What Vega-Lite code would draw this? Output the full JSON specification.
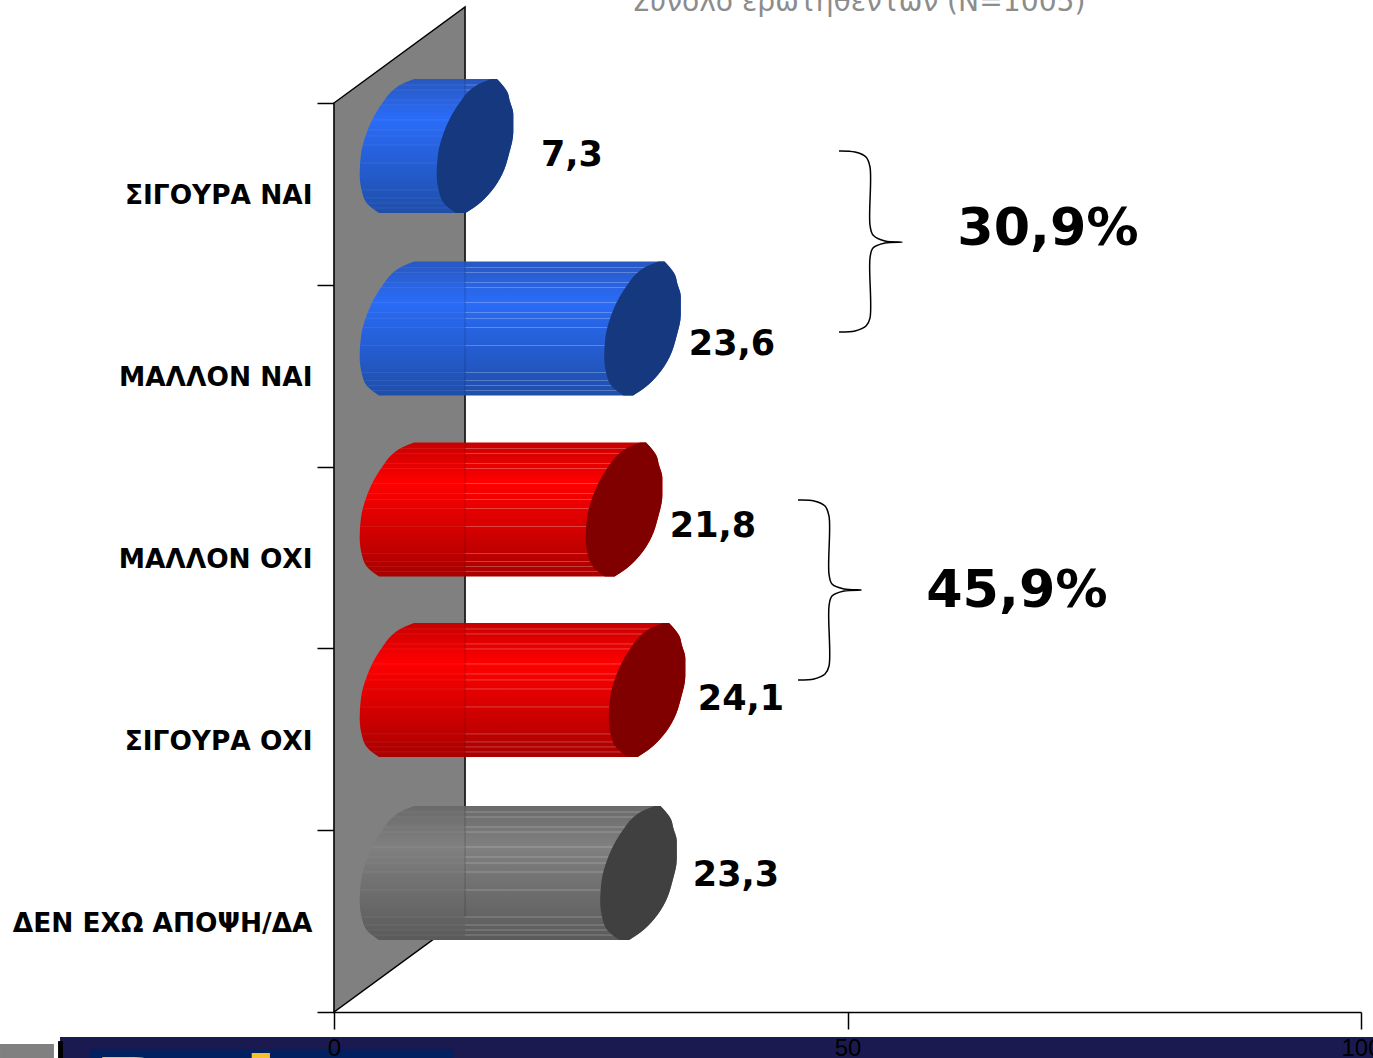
{
"$schema":"https://vega.github.io/schema/vega-lite/v6.json",
"autosize":{"type":"none"},
"padding":{"left":334,"top":103,"right":12,"bottom":46},
"width":1027,"height":909,
"background":"white",
"view":{"stroke":null},
"config":{"font":"DejaVu Sans"},
"datasets":{
"answers":[
{"category":"ΣΙΓΟΥΡΑ ΝΑΙ","value":7.3,"label":"7,3","lx":23.17,"ly":0.286},
{"category":"ΜΑΛΛΟΝ ΝΑΙ","value":23.6,"label":"23,6","lx":38.75,"ly":1.326},
{"category":"ΜΑΛΛΟΝ ΟΧΙ","value":21.8,"label":"21,8","lx":36.90,"ly":2.327},
{"category":"ΣΙΓΟΥΡΑ ΟΧΙ","value":24.1,"label":"24,1","lx":39.63,"ly":3.278},
{"category":"ΔΕΝ ΕΧΩ ΑΠΟΨΗ/ΔΑ","value":23.3,"label":"23,3","lx":39.14,"ly":4.246}
],
"wall":[{"x":0,"y":0,"y2":5},{"x":12.76,"y":-0.528,"y2":4.472}],
"banner":[
{"part":"navy","x":-26.68,"x2":101.17,"y":5.137,"y2":5.3},
{"part":"white","x":-32.52,"x2":-26.87,"y":5.143,"y2":5.3},
{"part":"panel","x":-32.52,"x2":-27.27,"y":5.176,"y2":5.3},
{"part":"black","x":-26.87,"x2":-26.39,"y":5.16,"y2":5.3},
{"part":"inner","x":-23.76,"x2":11.59,"y":5.203,"y2":5.3}
],
"cyl":[
{"c":"a","g":"blue","y":-0.132,"x0":7.79,"x1":15.29,"x2":15.87},
{"c":"a","g":"blue","y":-0.1045,"x0":6.62,"x1":14.12,"x2":16.32},
{"c":"a","g":"blue","y":-0.0605,"x0":5.55,"x1":13.05,"x2":16.88},
{"c":"a","g":"blue","y":-0.011,"x0":4.85,"x1":12.35,"x2":17.12},
{"c":"a","g":"blue","y":0.0605,"x0":4.02,"x1":11.52,"x2":17.46},
{"c":"a","g":"blue","y":0.1595,"x0":3.21,"x1":10.71,"x2":17.46},
{"c":"a","g":"blue","y":0.2805,"x0":2.63,"x1":10.13,"x2":17.04},
{"c":"a","g":"blue","y":0.3905,"x0":2.50,"x1":10.00,"x2":16.39},
{"c":"a","g":"blue","y":0.4895,"x0":2.73,"x1":10.23,"x2":15.26},
{"c":"a","g":"blue","y":0.561,"x0":3.36,"x1":10.86,"x2":13.97},
{"c":"a","g":"blue","y":0.605,"x0":4.38,"x1":11.88,"x2":12.81},
{"c":"b","g":"blue","y":0.872,"x0":7.79,"x1":31.60,"x2":32.18},
{"c":"b","g":"blue","y":0.899,"x0":6.62,"x1":30.43,"x2":32.63},
{"c":"b","g":"blue","y":0.943,"x0":5.55,"x1":29.36,"x2":33.19},
{"c":"b","g":"blue","y":0.993,"x0":4.85,"x1":28.66,"x2":33.43},
{"c":"b","g":"blue","y":1.064,"x0":4.02,"x1":27.83,"x2":33.77},
{"c":"b","g":"blue","y":1.163,"x0":3.21,"x1":27.02,"x2":33.77},
{"c":"b","g":"blue","y":1.284,"x0":2.63,"x1":26.44,"x2":33.35},
{"c":"b","g":"blue","y":1.394,"x0":2.50,"x1":26.31,"x2":32.70},
{"c":"b","g":"blue","y":1.493,"x0":2.73,"x1":26.54,"x2":31.57},
{"c":"b","g":"blue","y":1.565,"x0":3.36,"x1":27.17,"x2":30.28},
{"c":"b","g":"blue","y":1.609,"x0":4.38,"x1":28.19,"x2":29.12},
{"c":"c","g":"red","y":1.8675,"x0":7.79,"x1":29.80,"x2":30.38},
{"c":"c","g":"red","y":1.895,"x0":6.62,"x1":28.63,"x2":30.83},
{"c":"c","g":"red","y":1.939,"x0":5.55,"x1":27.56,"x2":31.39},
{"c":"c","g":"red","y":1.9885,"x0":4.85,"x1":26.86,"x2":31.63},
{"c":"c","g":"red","y":2.06,"x0":4.02,"x1":26.03,"x2":31.97},
{"c":"c","g":"red","y":2.159,"x0":3.21,"x1":25.22,"x2":31.97},
{"c":"c","g":"red","y":2.28,"x0":2.63,"x1":24.64,"x2":31.55},
{"c":"c","g":"red","y":2.39,"x0":2.50,"x1":24.51,"x2":30.90},
{"c":"c","g":"red","y":2.489,"x0":2.73,"x1":24.74,"x2":29.77},
{"c":"c","g":"red","y":2.5605,"x0":3.36,"x1":25.37,"x2":28.48},
{"c":"c","g":"red","y":2.6045,"x0":4.38,"x1":26.39,"x2":27.32},
{"c":"d","g":"red","y":2.860,"x0":7.79,"x1":32.04,"x2":32.62},
{"c":"d","g":"red","y":2.888,"x0":6.62,"x1":30.87,"x2":33.07},
{"c":"d","g":"red","y":2.932,"x0":5.55,"x1":29.80,"x2":33.63},
{"c":"d","g":"red","y":2.981,"x0":4.85,"x1":29.10,"x2":33.87},
{"c":"d","g":"red","y":3.053,"x0":4.02,"x1":28.27,"x2":34.21},
{"c":"d","g":"red","y":3.152,"x0":3.21,"x1":27.46,"x2":34.21},
{"c":"d","g":"red","y":3.273,"x0":2.63,"x1":26.88,"x2":33.79},
{"c":"d","g":"red","y":3.383,"x0":2.50,"x1":26.75,"x2":33.14},
{"c":"d","g":"red","y":3.482,"x0":2.73,"x1":26.98,"x2":32.01},
{"c":"d","g":"red","y":3.553,"x0":3.36,"x1":27.61,"x2":30.72},
{"c":"d","g":"red","y":3.597,"x0":4.38,"x1":28.63,"x2":29.56},
{"c":"e","g":"gray","y":3.867,"x0":7.79,"x1":31.21,"x2":31.79},
{"c":"e","g":"gray","y":3.894,"x0":6.62,"x1":30.04,"x2":32.24},
{"c":"e","g":"gray","y":3.938,"x0":5.55,"x1":28.97,"x2":32.80},
{"c":"e","g":"gray","y":3.988,"x0":4.85,"x1":28.27,"x2":33.04},
{"c":"e","g":"gray","y":4.059,"x0":4.02,"x1":27.44,"x2":33.38},
{"c":"e","g":"gray","y":4.158,"x0":3.21,"x1":26.63,"x2":33.38},
{"c":"e","g":"gray","y":4.279,"x0":2.63,"x1":26.05,"x2":32.96},
{"c":"e","g":"gray","y":4.389,"x0":2.50,"x1":25.92,"x2":32.31},
{"c":"e","g":"gray","y":4.488,"x0":2.73,"x1":26.15,"x2":31.18},
{"c":"e","g":"gray","y":4.560,"x0":3.36,"x1":26.78,"x2":29.89},
{"c":"e","g":"gray","y":4.604,"x0":4.38,"x1":27.80,"x2":28.73}
],
"stripes":[
{"c":"a","y":-0.099,"xa":6.48,"xw":12.76,"xb":13.98},{"c":"a","y":-0.0715,"xa":5.82,"xw":12.76,"xb":13.32},{"c":"a","y":-0.0165,"xa":4.93,"xw":12.43,"xb":12.43},{"c":"a","y":0.011,"xa":4.59,"xw":12.09,"xb":12.09},{"c":"a","y":0.0935,"xa":3.75,"xw":11.25,"xb":11.25},{"c":"a","y":0.1485,"xa":3.30,"xw":10.80,"xb":10.80},{"c":"a","y":0.1815,"xa":3.10,"xw":10.60,"xb":10.60},{"c":"a","y":0.231,"xa":2.87,"xw":10.37,"xb":10.37},{"c":"a","y":0.33,"xa":2.57,"xw":10.07,"xb":10.07},{"c":"a","y":0.4785,"xa":2.70,"xw":10.20,"xb":10.20},{"c":"a","y":0.5225,"xa":3.02,"xw":10.52,"xb":10.52},{"c":"a","y":0.55,"xa":3.26,"xw":10.76,"xb":10.76},{"c":"a","y":0.5775,"xa":3.74,"xw":11.24,"xb":11.24},
{"c":"b","y":0.905,"xa":6.48,"xw":12.76,"xb":30.29},{"c":"b","y":0.9325,"xa":5.82,"xw":12.76,"xb":29.63},{"c":"b","y":0.9875,"xa":4.93,"xw":12.76,"xb":28.74},{"c":"b","y":1.015,"xa":4.59,"xw":12.76,"xb":28.40},{"c":"b","y":1.0975,"xa":3.75,"xw":12.76,"xb":27.56},{"c":"b","y":1.1525,"xa":3.30,"xw":12.76,"xb":27.11},{"c":"b","y":1.1855,"xa":3.10,"xw":12.76,"xb":26.91},{"c":"b","y":1.235,"xa":2.87,"xw":12.76,"xb":26.68},{"c":"b","y":1.334,"xa":2.57,"xw":12.76,"xb":26.38},{"c":"b","y":1.4825,"xa":2.70,"xw":12.76,"xb":26.51},{"c":"b","y":1.5265,"xa":3.02,"xw":12.76,"xb":26.83},{"c":"b","y":1.554,"xa":3.26,"xw":12.76,"xb":27.07},{"c":"b","y":1.5815,"xa":3.74,"xw":12.76,"xb":27.55},
{"c":"c","y":1.9005,"xa":6.48,"xw":12.76,"xb":28.49},{"c":"c","y":1.928,"xa":5.82,"xw":12.76,"xb":27.83},{"c":"c","y":1.983,"xa":4.93,"xw":12.76,"xb":26.94},{"c":"c","y":2.0105,"xa":4.59,"xw":12.76,"xb":26.60},{"c":"c","y":2.093,"xa":3.75,"xw":12.76,"xb":25.76},{"c":"c","y":2.148,"xa":3.30,"xw":12.76,"xb":25.31},{"c":"c","y":2.181,"xa":3.10,"xw":12.76,"xb":25.11},{"c":"c","y":2.2305,"xa":2.87,"xw":12.76,"xb":24.88},{"c":"c","y":2.3295,"xa":2.57,"xw":12.76,"xb":24.58},{"c":"c","y":2.478,"xa":2.70,"xw":12.76,"xb":24.71},{"c":"c","y":2.522,"xa":3.02,"xw":12.76,"xb":25.03},{"c":"c","y":2.5495,"xa":3.26,"xw":12.76,"xb":25.27},{"c":"c","y":2.577,"xa":3.74,"xw":12.76,"xb":25.75},
{"c":"d","y":2.893,"xa":6.48,"xw":12.76,"xb":30.73},{"c":"d","y":2.9205,"xa":5.82,"xw":12.76,"xb":30.07},{"c":"d","y":2.9755,"xa":4.93,"xw":12.76,"xb":29.18},{"c":"d","y":3.003,"xa":4.59,"xw":12.76,"xb":28.84},{"c":"d","y":3.0855,"xa":3.75,"xw":12.76,"xb":28.00},{"c":"d","y":3.1405,"xa":3.30,"xw":12.76,"xb":27.55},{"c":"d","y":3.1735,"xa":3.10,"xw":12.76,"xb":27.35},{"c":"d","y":3.223,"xa":2.87,"xw":12.76,"xb":27.12},{"c":"d","y":3.322,"xa":2.57,"xw":12.76,"xb":26.82},{"c":"d","y":3.4705,"xa":2.70,"xw":12.76,"xb":26.95},{"c":"d","y":3.5145,"xa":3.02,"xw":12.76,"xb":27.27},{"c":"d","y":3.542,"xa":3.26,"xw":12.76,"xb":27.51},{"c":"d","y":3.5695,"xa":3.74,"xw":12.76,"xb":27.99},
{"c":"e","y":3.90,"xa":6.48,"xw":12.76,"xb":29.90},{"c":"e","y":3.9275,"xa":5.82,"xw":12.76,"xb":29.24},{"c":"e","y":3.9825,"xa":4.93,"xw":12.76,"xb":28.35},{"c":"e","y":4.01,"xa":4.59,"xw":12.76,"xb":28.01},{"c":"e","y":4.0925,"xa":3.75,"xw":12.76,"xb":27.17},{"c":"e","y":4.1475,"xa":3.30,"xw":12.76,"xb":26.72},{"c":"e","y":4.1805,"xa":3.10,"xw":12.76,"xb":26.52},{"c":"e","y":4.23,"xa":2.87,"xw":12.76,"xb":26.29},{"c":"e","y":4.329,"xa":2.57,"xw":12.76,"xb":25.99},{"c":"e","y":4.4775,"xa":2.70,"xw":12.76,"xb":26.12},{"c":"e","y":4.5215,"xa":3.02,"xw":12.76,"xb":26.44},{"c":"e","y":4.549,"xa":3.26,"xw":12.76,"xb":26.68},{"c":"e","y":4.5765,"xa":3.74,"xw":12.76,"xb":27.16}
],
"edge":[
{"x":12.76,"y":-0.132,"y2":0.605},{"x":12.76,"y":0.872,"y2":1.609},{"x":12.76,"y":1.8675,"y2":2.6045},{"x":12.76,"y":2.860,"y2":3.597},{"x":12.76,"y":3.867,"y2":4.472}
],
"brace":[
{"b":1,"o":1,"x":49.17,"y":0.264},{"b":1,"o":2,"x":50.73,"y":0.270},{"b":1,"o":3,"x":51.80,"y":0.297},{"b":1,"o":4,"x":52.19,"y":0.352},{"b":1,"o":5,"x":52.19,"y":0.671},{"b":1,"o":6,"x":52.48,"y":0.726},{"b":1,"o":7,"x":53.65,"y":0.759},{"b":1,"o":8,"x":55.31,"y":0.765},{"b":1,"o":9,"x":53.65,"y":0.770},{"b":1,"o":10,"x":52.48,"y":0.798},{"b":1,"o":11,"x":52.19,"y":0.853},{"b":1,"o":12,"x":52.19,"y":1.183},{"b":1,"o":13,"x":51.80,"y":1.227},{"b":1,"o":14,"x":50.73,"y":1.254},{"b":1,"o":15,"x":49.17,"y":1.260},
{"b":2,"o":1,"x":45.18,"y":2.184},{"b":2,"o":2,"x":46.74,"y":2.189},{"b":2,"o":3,"x":47.81,"y":2.217},{"b":2,"o":4,"x":48.20,"y":2.272},{"b":2,"o":5,"x":48.20,"y":2.591},{"b":2,"o":6,"x":48.49,"y":2.646},{"b":2,"o":7,"x":49.66,"y":2.673},{"b":2,"o":8,"x":51.32,"y":2.679},{"b":2,"o":9,"x":49.66,"y":2.684},{"b":2,"o":10,"x":48.49,"y":2.712},{"b":2,"o":11,"x":48.20,"y":2.767},{"b":2,"o":12,"x":48.20,"y":3.097},{"b":2,"o":13,"x":47.81,"y":3.141},{"b":2,"o":14,"x":46.74,"y":3.168},{"b":2,"o":15,"x":45.18,"y":3.174}
]
},
"layer":[
{
"data":{"name":"banner"},
"mark":{"type":"rect"},
"encoding":{
"x":{"field":"x","type":"quantitative","scale":{"domain":[0,100],"nice":false},
"axis":{"values":[0,50,100],"title":null,"grid":false,"domainColor":"#000000","domainWidth":1.5,"tickColor":"#000000","tickWidth":1.5,"tickSize":17,"labelFont":"Liberation Sans","labelFontSize":24,"labelColor":"#000000","labelPadding":7,"zindex":1,"labelFlush":false,"labelOverlap":false}},
"x2":{"field":"x2"},
"y":{"field":"y","type":"quantitative","scale":{"domain":[0,5],"reverse":true,"nice":false,"zero":false},
"axis":{"title":null,"grid":false,"values":[0,0.5,1,1.5,2,2.5,3,3.5,4,4.5,5],"labelExpr":"datum.value===0.5?'ΣΙΓΟΥΡΑ ΝΑΙ':datum.value===1.5?'ΜΑΛΛΟΝ ΝΑΙ':datum.value===2.5?'ΜΑΛΛΟΝ ΟΧΙ':datum.value===3.5?'ΣΙΓΟΥΡΑ ΟΧΙ':datum.value===4.5?'ΔΕΝ ΕΧΩ ΑΠΟΨΗ/ΔΑ':''","tickOpacity":{"condition":{"test":"datum.value % 1 === 0","value":1},"value":0},"domainColor":"#000000","domainWidth":1.5,"tickColor":"#000000","tickWidth":1.5,"tickSize":17,"labelFont":"DejaVu Sans","labelFontSize":26.4,"labelFontWeight":"bold","labelColor":"#000000","labelPadding":5,"labelOffset":2,"labelLimit":400,"labelOverlap":false,"labelFlush":false}},
"y2":{"field":"y2"},
"fill":{"field":"part","type":"nominal","legend":null,"scale":{"domain":["navy","white","panel","black","inner","blue","red","gray"],"range":["#1a1a50","#ffffff","#808080","#000000","#002060","#16387f","#800000","#404040"]}}
}
},
{
"data":{"values":[{"t":"Pub","x":-23.5,"y":5.66}]},
"mark":{"type":"text","align":"left","baseline":"alphabetic","font":"DejaVu Sans","fontWeight":"bold","fontSize":104,"color":"#f5c030"},
"encoding":{"x":{"field":"x","type":"quantitative"},"y":{"field":"y","type":"quantitative"},"text":{"field":"t"}}
},
{
"data":{"name":"wall"},
"mark":{"type":"area","fill":"#808080","stroke":"#000000","strokeWidth":1.5},
"encoding":{"x":{"field":"x","type":"quantitative"},"y":{"field":"y","type":"quantitative"},"y2":{"field":"y2"}}
},
{
"data":{"name":"cyl"},"transform":[{"filter":"datum.g==='blue'"}],
"mark":{"type":"area","orient":"horizontal","interpolate":"monotone","fill":{"gradient":"linear","x1":0,"y1":0,"x2":0,"y2":1,"stops":[{"offset":0,"color":"#2858c0"},{"offset":0.3,"color":"#2a6cf8"},{"offset":1,"color":"#1f4eaa"}]}},
"encoding":{"y":{"field":"y","type":"quantitative"},"x":{"field":"x0","type":"quantitative"},"x2":{"field":"x2"},"detail":{"field":"c"}}
},
{
"data":{"name":"cyl"},"transform":[{"filter":"datum.g==='red'"}],
"mark":{"type":"area","orient":"horizontal","interpolate":"monotone","fill":{"gradient":"linear","x1":0,"y1":0,"x2":0,"y2":1,"stops":[{"offset":0,"color":"#c80000"},{"offset":0.3,"color":"#ff0000"},{"offset":1,"color":"#a80000"}]}},
"encoding":{"y":{"field":"y","type":"quantitative"},"x":{"field":"x0","type":"quantitative"},"x2":{"field":"x2"},"detail":{"field":"c"}}
},
{
"data":{"name":"cyl"},"transform":[{"filter":"datum.g==='gray'"}],
"mark":{"type":"area","orient":"horizontal","interpolate":"monotone","fill":{"gradient":"linear","x1":0,"y1":0,"x2":0,"y2":1,"stops":[{"offset":0,"color":"#6a6a6a"},{"offset":0.3,"color":"#808080"},{"offset":1,"color":"#5a5a5a"}]}},
"encoding":{"y":{"field":"y","type":"quantitative"},"x":{"field":"x0","type":"quantitative"},"x2":{"field":"x2"},"detail":{"field":"c"}}
},
{
"data":{"name":"stripes"},
"mark":{"type":"rule","color":"#ffffff","strokeWidth":1,"opacity":0.07},
"encoding":{"y":{"field":"y","type":"quantitative"},"x":{"field":"xa","type":"quantitative"},"x2":{"field":"xb"}}
},
{
"data":{"name":"stripes"},
"mark":{"type":"rule","color":"#ffffff","strokeWidth":1,"opacity":0.2},
"encoding":{"y":{"field":"y","type":"quantitative"},"x":{"field":"xw","type":"quantitative"},"x2":{"field":"xb"}}
},
{
"data":{"name":"edge"},
"mark":{"type":"rule","color":"#000000","strokeWidth":1,"opacity":0.2},
"encoding":{"x":{"field":"x","type":"quantitative"},"y":{"field":"y","type":"quantitative"},"y2":{"field":"y2"}}
},
{
"data":{"name":"cyl"},
"mark":{"type":"area","orient":"horizontal","interpolate":"monotone"},
"encoding":{"y":{"field":"y","type":"quantitative"},"x":{"field":"x1","type":"quantitative"},"x2":{"field":"x2"},"detail":{"field":"c"},
"fill":{"field":"g","type":"nominal"}}
},
{
"data":{"name":"brace"},
"mark":{"type":"line","color":"#000000","strokeWidth":1.5,"interpolate":"catmull-rom"},
"encoding":{"x":{"field":"x","type":"quantitative"},"y":{"field":"y","type":"quantitative"},"detail":{"field":"b"},"order":{"field":"o"}}
},
{
"data":{"name":"answers"},
"mark":{"type":"text","font":"DejaVu Sans","fontWeight":"bold","fontSize":35,"color":"#000000","align":"center","baseline":"middle"},
"encoding":{"x":{"field":"lx","type":"quantitative"},"y":{"field":"ly","type":"quantitative"},"text":{"field":"label"}}
},
{
"data":{"values":[{"t":"30,9%","x":69.52,"y":0.693},{"t":"45,9%","x":66.50,"y":2.684}]},
"mark":{"type":"text","font":"DejaVu Sans","fontWeight":"bold","fontSize":52.3,"color":"#000000","align":"center","baseline":"middle"},
"encoding":{"x":{"field":"x","type":"quantitative"},"y":{"field":"y","type":"quantitative"},"text":{"field":"t"}}
},
{
"data":{"values":[{"t":"Σύνολο ερωτηθέντων (Ν=1005)","x":29.02,"y":-0.506}]},
"mark":{"type":"text","font":"DejaVu Sans","fontSize":28.2,"color":"#8c8c8c","align":"left","baseline":"alphabetic"},
"encoding":{"x":{"field":"x","type":"quantitative"},"y":{"field":"y","type":"quantitative"},"text":{"field":"t"}}
}
]
}
